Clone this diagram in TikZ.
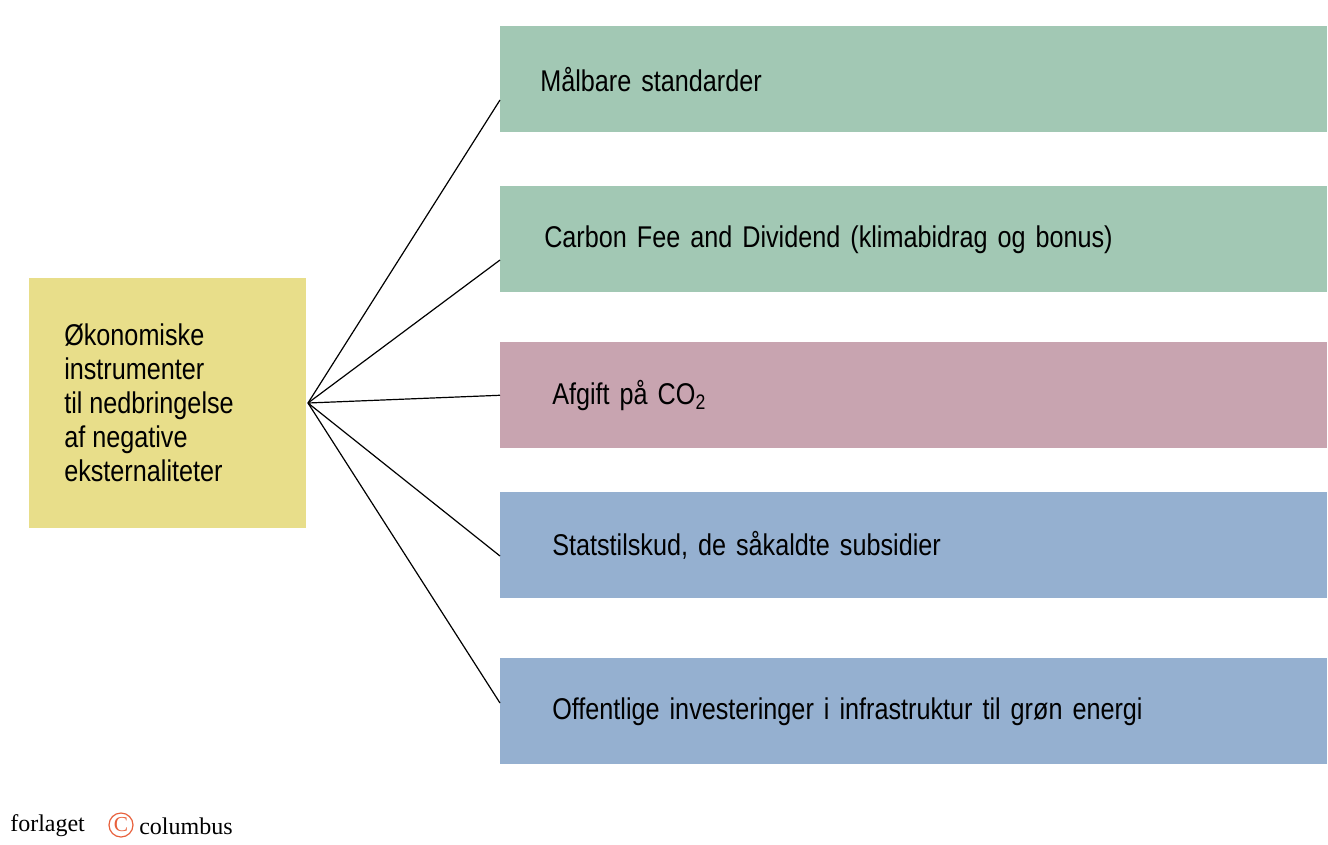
\documentclass[tikz,border=0pt]{standalone}
\usepackage{fontspec}
\setmainfont{Liberation Sans}[FakeStretch=0.84]
\newfontfamily\logofont{Liberation Serif}
\definecolor{ylw}{HTML}{E8DE8A}
\definecolor{grn}{HTML}{A2C8B4}
\definecolor{pnk}{HTML}{C8A4B0}
\definecolor{blu}{HTML}{95B0D0}
\definecolor{org}{HTML}{E8603C}
\begin{document}
\begin{tikzpicture}[x=0.75pt,y=-0.75pt,
  box/.style={draw=none,minimum width=587.25pt,minimum height=79.5pt,anchor=north west,text width=560pt,align=left,inner xsep=30pt,font=\fontsize{22.5pt}{26pt}\selectfont},
  ln/.style={line width=0.9pt}]
\useasboundingbox (0,0) rectangle (1328,844);
\node[fill=ylw,minimum width=207.75pt,minimum height=187.5pt,anchor=north west] (src) at (29,278) {};
\node[anchor=west,align=left,font=\fontsize{22.5pt}{25.5pt}\selectfont,inner sep=0pt] at (64,403) {Økonomiske\\instrumenter\\til nedbringelse\\af negative\\eksternaliteter};
\coordinate (hub) at (308,403);
\node[box,fill=grn] (b1) at (500,26) {Målbare standarder};
\node[box,fill=grn] (b2) at (500,186) {\hspace*{3pt}Carbon Fee and Dividend (klimabidrag og bonus)};
\node[box,fill=pnk] (b3) at (500,342) {\hspace*{9pt}Afgift på CO\textsubscript{2}};
\node[box,fill=blu] (b4) at (500,492) {\hspace*{9pt}Statstilskud, de såkaldte subsidier};
\node[box,fill=blu] (b5) at (500,658) {\hspace*{9pt}Offentlige investeringer i infrastruktur til grøn energi};
\draw[ln] (hub) -- ([yshift=-0.0pt]b1.south west |- 0,100);
\draw[ln] (hub) -- (b2.south west |- 0,260);
\draw[ln] (hub) -- (b3.west);
\draw[ln] (hub) -- (b4.south west |- 0,556);
\draw[ln] (hub) -- (b5.south west |- 0,703);
\node[anchor=west,font=\logofont\fontsize{18pt}{20pt}\selectfont,inner sep=0pt] (lg1) at (10,826) {forlaget};
\node[draw=org,circle,line width=0.9pt,minimum size=18pt,inner sep=0pt,font=\logofont\fontsize{16pt}{16pt}\selectfont,text=org] (lgc) at (121,825) {C};
\node[anchor=west,font=\logofont\fontsize{18pt}{20pt}\selectfont,inner sep=0pt] (lg2) at (139,826) {columbus};
\end{tikzpicture}
\end{document}
